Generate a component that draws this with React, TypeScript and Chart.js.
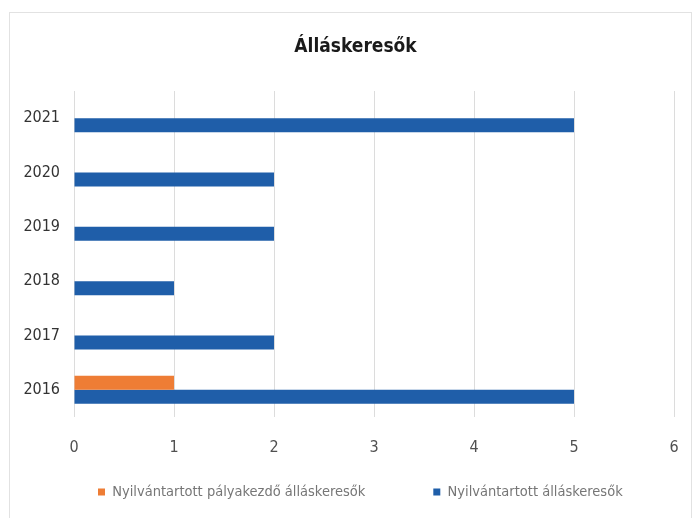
import React, { useEffect, useRef } from "react";
import { Chart, registerables } from "chart.js";

Chart.register(...registerables);

const categories = ["2021", "2020", "2019", "2018", "2017", "2016"];
const palyakezdoValues = [0, 0, 0, 0, 0, 1];
const allaskeresokValues = [5, 2, 2, 1, 2, 5];
const seriesNames = ["Nyilvántartott pályakezdő álláskeresők", "Nyilvántartott álláskeresők"];
const titleText = "Álláskeresők";

const FONT = "'DejaVu Sans Condensed', 'Liberation Sans Narrow', 'Liberation Sans', sans-serif";

const LEGEND_PAD = 68;
const LEGEND_FIRST_X = 98;
const LEGEND_FONT = 14.5;
const LEGEND_CENTER_Y = 492;
const TITLE_CENTER_X = 355.5;

export default function App() {
  const ref = useRef<HTMLCanvasElement | null>(null);
  useEffect(() => {
    if (!ref.current) return;
    const frame = {
      id: "frame",
      beforeDraw(chart: any) {
        const ctx = chart.ctx;
        ctx.save();
        ctx.fillStyle = "#ffffff";
        ctx.fillRect(0, 0, chart.width, chart.height);
        ctx.strokeStyle = "#e2e2e2";
        ctx.lineWidth = 1;
        ctx.strokeRect(9.5, 12.5, 682, 520);
        ctx.restore();
      },
      afterLayout(chart: any) {
        const lg = chart.legend;
        if (lg) {
          const dx = LEGEND_FIRST_X - LEGEND_PAD - lg.left;
          lg.left += dx;
          lg.right = chart.width + 200;
          lg.top = LEGEND_CENTER_Y - LEGEND_PAD - Math.max(LEGEND_FONT, 7) / 2;
          lg.bottom = chart.height;
          lg.width = lg.right - lg.left;
          lg.height = lg.bottom - lg.top;
        }
        const tb = chart.titleBlock;
        if (tb) {
          const dx = TITLE_CENTER_X - (tb.left + tb.right) / 2;
          tb.left += dx;
          tb.right += dx;
        }
      },
    };
    const chart = new Chart(ref.current, {
      type: "bar",
      data: {
        labels: categories,
        datasets: [
          {
            label: seriesNames[0],
            data: palyakezdoValues,
            backgroundColor: "#ee7d35",
            borderWidth: 0,
            categoryPercentage: 0.515,
            barPercentage: 1,
          },
          {
            label: seriesNames[1],
            data: allaskeresokValues,
            backgroundColor: "#1f5ea9",
            borderWidth: 0,
            categoryPercentage: 0.515,
            barPercentage: 1,
          },
        ],
      },
      options: {
        indexAxis: "y",
        animation: false,
        responsive: false,
        layout: { padding: { left: 10, right: 20, top: 0, bottom: 10 } },
        plugins: {
          title: {
            display: true,
            text: titleText,
            color: "#1a1a1a",
            font: { family: FONT, size: 19, weight: "bold", lineHeight: 1.2 },
            padding: { top: 35.6, bottom: 32.6 },
          },
          legend: {
            position: "bottom",
            align: "start",
            maxHeight: 50,
            labels: {
              boxWidth: 7,
              boxHeight: 7,
              padding: LEGEND_PAD,
              color: "#767676",
              font: { family: FONT, size: LEGEND_FONT },
            },
          },
          tooltip: { enabled: false },
        },
        scales: {
          x: {
            min: 0,
            max: 6,
            ticks: { stepSize: 1, padding: 21, color: "#505050", font: { family: FONT, size: 16 } },
            grid: { color: "#dcdcdc", drawTicks: false },
            border: { display: false },
            afterFit(scale: any) {
              scale.height = 41;
              scale.paddingLeft = 8;
              scale.paddingRight = 8;
            },
          },
          y: {
            ticks: { padding: 14, color: "#333333", font: { family: FONT, size: 16 } },
            grid: { display: false, drawTicks: false },
            border: { display: false },
            afterFit(scale: any) {
              scale.width = 64;
            },
          },
        },
      },
      plugins: [frame],
    } as any);
    return () => chart.destroy();
  }, []);
  return (
    <div style={{ position: "fixed", left: 0, top: 0, width: 694, height: 518, background: "#fff" }}>
      <canvas ref={ref} width={694} height={518} style={{ display: "block" }} />
    </div>
  );
}
